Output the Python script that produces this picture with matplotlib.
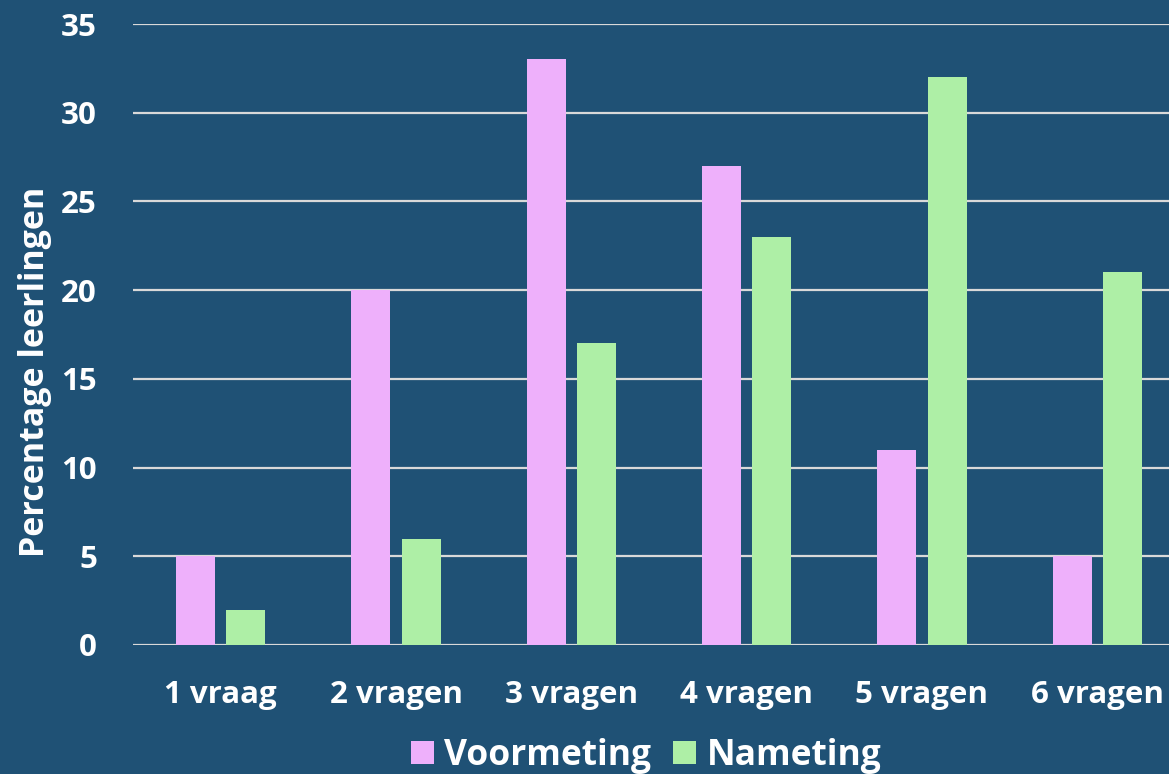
import matplotlib
matplotlib.use("Agg")
import matplotlib.pyplot as plt
import numpy as np
from matplotlib.patches import Patch

categories = ["1 vraag", "2 vragen", "3 vragen", "4 vragen", "5 vragen", "6 vragen"]
voormeting = [5, 20, 33, 27, 11, 5]
nameting = [2, 6, 17, 23, 32, 21]
series_names = ["Voormeting", "Nameting"]
yticks = [0, 5, 10, 15, 20, 25, 30, 35]

bg = "#1F5175"
pink = "#EEB0FB"
green = "#AEEFA6"
grid = "#D9D9D9"

plt.rcParams['font.family'] = ['Open Sans', 'DejaVu Sans']
plt.rcParams['font.weight'] = 'bold'

fig = plt.figure(figsize=(11.69, 7.74), dpi=100, facecolor=bg)
ax = fig.add_axes([133/1169, (774-645)/774, (1185-133)/1169, (645-24)/774])
ax.set_facecolor(bg)

x = np.arange(len(categories))
w = 0.223
off = 0.143
ax.bar(x - off, voormeting, w, color=pink, zorder=3)
ax.bar(x + off, nameting, w, color=green, zorder=3)

ax.set_xlim(-0.5, len(categories) - 0.5)
ax.set_ylim(0, 35)
ax.set_yticks(yticks)
ax.set_yticklabels([str(t) for t in yticks])
ax.set_xticks(x)
ax.set_xticklabels(categories)
ax.yaxis.grid(True, color=grid, linewidth=1.6, zorder=0)
ax.set_axisbelow(True)
for s in ax.spines.values():
    s.set_visible(False)
ax.tick_params(axis='both', length=0, colors='white', labelsize=22.5)
ax.tick_params(axis='y', pad=26)
ax.tick_params(axis='x', pad=25)
for lab in ax.get_xticklabels() + ax.get_yticklabels():
    lab.set_fontweight('bold')
    lab.set_color('white')

fig.text(35/1169, 1 - 372/774, "Percentage leerlingen", rotation=90, color='white',
         fontsize=24.5, fontweight='bold', ha='center', va='center')

handles = [Patch(facecolor=pink, label=series_names[0]), Patch(facecolor=green, label=series_names[1])]
leg = fig.legend(handles=handles, loc='center', bbox_to_anchor=(646/1169, 1 - 756/774), ncol=2,
                 frameon=False, fontsize=25.5, handlelength=0.65, handleheight=0.65,
                 handletextpad=0.3, columnspacing=0.6, borderpad=0)
for t in leg.get_texts():
    t.set_color('white')
    t.set_fontweight('bold')

fig.savefig("out.png", dpi=100, facecolor=bg)
